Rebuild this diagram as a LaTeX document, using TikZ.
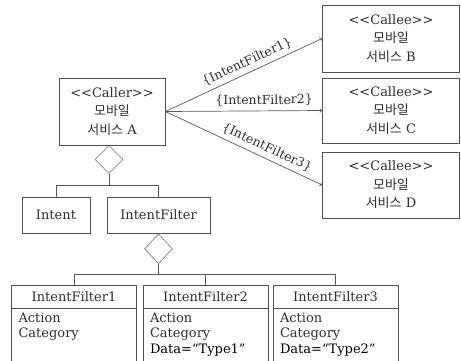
\documentclass[tikz,border=0pt]{standalone}
\usepackage{fontspec}
\setmainfont{DejaVu Serif}
\newfontfamily\kr{Noto Sans CJK KR}
\usepackage{tikz}
\usetikzlibrary{shapes}
\usetikzlibrary{positioning}
\definecolor{boxgray}{HTML}{505050}
\definecolor{diagray}{HTML}{8A8A8A}
\definecolor{linegray}{HTML}{5A5A5A}
\definecolor{textgray}{HTML}{2E2E2E}

\begin{document}
\begin{tikzpicture}[x=1pt,y=-1pt,
  box/.style={draw=boxgray, line width=0.8pt, rectangle, align=center, inner sep=0pt,
    text=textgray, font=\fontsize{13}{18.5}\selectfont},
  rhomb/.style={draw=diagray, line width=0.8pt, diamond, inner sep=0pt, minimum width=28pt},
  link/.style={draw=linegray, line width=0.7pt},
  call/.style={link, ->},
  lbl/.style={sloped, above=1pt, text=textgray, font=\fontsize{12.5}{14}\selectfont}]
\useasboundingbox (0,0) rectangle (461,360);

\node[box, minimum width=106pt, minimum height=67pt] (caller) at (112,111.5)
  {{<}{<}Caller{>}{>}\\{\kr 모바일}\\{\kr 서비스} A};
\foreach \c/\y/\h/\l in {calleeB/38.5/67/B, calleeC/110.5/65/C, calleeD/185/66/D}
{\node[box, minimum width=137pt, minimum height=\h pt] (\c) at (391,\y)
  {{<}{<}Callee{>}{>}\\{\kr 모바일}\\{\kr 서비스} \l};}

\draw[call] (caller.east) -- node[lbl, pos=0.55] {\{IntentFilter1\}} (calleeB.west);
\draw[call] (caller.east) -- node[lbl, pos=0.63] {\{IntentFilter2\}} (calleeC.west);
\draw[call] (caller.east) -- node[lbl, pos=0.62] {\{IntentFilter3\}} (calleeD.west);

\node[rhomb, minimum height=28pt] (d1) at (109,159.5) {};
\node[box, minimum width=68pt, minimum height=36pt] (intent) at (56,215) {Intent};
\node[box, minimum width=103pt, minimum height=36pt] (ifilter) at (158.5,215) {IntentFilter};
\coordinate (j1) at (d1.south |- 0,185);
\draw[link] (d1.south) -- (j1);
\draw[link] (intent.north) |- (j1);
\draw[link] (ifilter.north) |- (j1);

\node[rhomb, minimum height=30pt, below=0pt of ifilter] (d2) {};
\foreach \c/\x/\n/\d in {flt1/74/1/{}, flt2/205.5/2/{\color{black}Data=“Type1”},
  flt3/335.5/3/{\color{black}Data=“Type2”}}
{\node[box, minimum width=125pt, minimum height=23pt] (\c) at (\x,296.5) {IntentFilter\n};
\node[box, below=0pt of \c, minimum width=125pt, text width=111pt, align=left,
  inner xsep=7pt, inner ysep=4pt, font=\fontsize{13}{15.5}\selectfont] (\c body)
  {Action\\Category\\\d\strut};}
\coordinate (j2) at (d2.south |- 0,274);
\draw[link] (d2.south) -- (j2);
\foreach \c in {flt1,flt2,flt3}
{\draw[link] (\c.north) |- (j2);}
\end{tikzpicture}
\end{document}
